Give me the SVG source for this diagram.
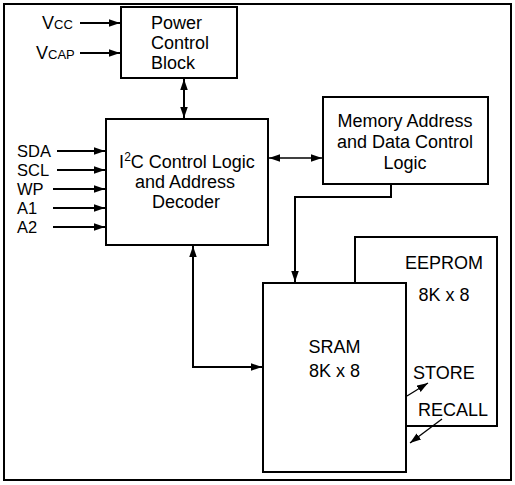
<svg xmlns="http://www.w3.org/2000/svg" width="515" height="485" viewBox="0 0 515 485">
<style>
.box{fill:#fff;stroke:#000;stroke-width:2}
.t{font-family:"Liberation Sans",Arial,sans-serif;font-size:18px;fill:#000}
.in{font-size:16.5px}
.c{text-anchor:middle}
.w{fill:none;stroke:#000;stroke-width:2}
.thin{fill:none;stroke:#000;stroke-width:1.3}
</style>
<defs>
<marker id="a" markerUnits="userSpaceOnUse" markerWidth="12" markerHeight="8" refX="11" refY="3.75" orient="auto-start-reverse" viewBox="0 0 12 8">
<path d="M0,0 L11,3.75 L0,7.5 Z" fill="#000"/>
</marker>
</defs>
<rect x="4" y="4" width="507" height="476" fill="#fff" stroke="#000" stroke-width="2"/>
<g id="eeprom">
<rect class="box" x="355" y="237" width="142" height="189"/>
<text class="t c" x="444" y="269">EEPROM</text>
<text class="t c" x="444" y="301">8K x 8</text>
</g>
<g id="power">
<rect class="box" x="121" y="7" width="116" height="71"/>
<text class="t" x="151" y="29">Power</text>
<text class="t" x="151" y="49">Control</text>
<text class="t" x="151" y="69">Block</text>
</g>
<g id="i2c">
<rect class="box" x="106" y="119" width="162" height="126"/>
<text class="t c" x="187" y="168">I<tspan font-size="12" dy="-7">2</tspan><tspan dy="7">C Control Logic</tspan></text>
<text class="t c" x="185" y="188">and Address</text>
<text class="t c" x="186" y="208">Decoder</text>
</g>
<g id="memctl">
<rect class="box" x="323" y="97" width="165" height="87"/>
<text class="t c" x="405" y="127">Memory Address</text>
<text class="t c" x="405" y="148">and Data Control</text>
<text class="t c" x="405" y="169">Logic</text>
</g>
<g id="sram">
<rect class="box" x="263" y="283" width="143" height="189"/>
<text class="t c" x="334.5" y="353">SRAM</text>
<text class="t c" x="334.5" y="377">8K x 8</text>
</g>
<g id="labels">
<text class="t" x="42" y="28.5">V<tspan font-size="13">CC</tspan></text>
<text class="t" x="36" y="59">V<tspan font-size="13">CAP</tspan></text>
<text class="t in" x="17" y="157">SDA</text>
<text class="t in" x="17" y="176">SCL</text>
<text class="t in" x="17" y="195">WP</text>
<text class="t in" x="17" y="214">A1</text>
<text class="t in" x="17" y="233">A2</text>
<text class="t" x="413" y="379">STORE</text>
<text class="t" x="418" y="416">RECALL</text>
</g>
<g id="connectors">
<line class="w" x1="80" y1="23" x2="120" y2="23" marker-end="url(#a)"/>
<line class="w" x1="80" y1="53" x2="120" y2="53" marker-end="url(#a)"/>
<line class="w" x1="57" y1="151" x2="105" y2="151" marker-end="url(#a)"/>
<line class="w" x1="57" y1="170" x2="105" y2="170" marker-end="url(#a)"/>
<line class="w" x1="53" y1="189" x2="105" y2="189" marker-end="url(#a)"/>
<line class="w" x1="53" y1="208" x2="105" y2="208" marker-end="url(#a)"/>
<line class="w" x1="53" y1="227" x2="105" y2="227" marker-end="url(#a)"/>
<line class="w" x1="184" y1="79" x2="184" y2="118" marker-start="url(#a)" marker-end="url(#a)"/>
<line class="thin" x1="269" y1="158" x2="322" y2="158" marker-start="url(#a)" marker-end="url(#a)"/>
<polyline class="w" points="391,185 391,197 295,197 295,282" marker-end="url(#a)"/>
<polyline class="w" points="193,246 193,367 262,367" marker-start="url(#a)" marker-end="url(#a)"/>
<line class="thin" x1="407" y1="396" x2="428" y2="383" marker-end="url(#a)"/>
<line class="thin" x1="442" y1="419" x2="410" y2="443" marker-end="url(#a)"/>
</g>
</svg>
